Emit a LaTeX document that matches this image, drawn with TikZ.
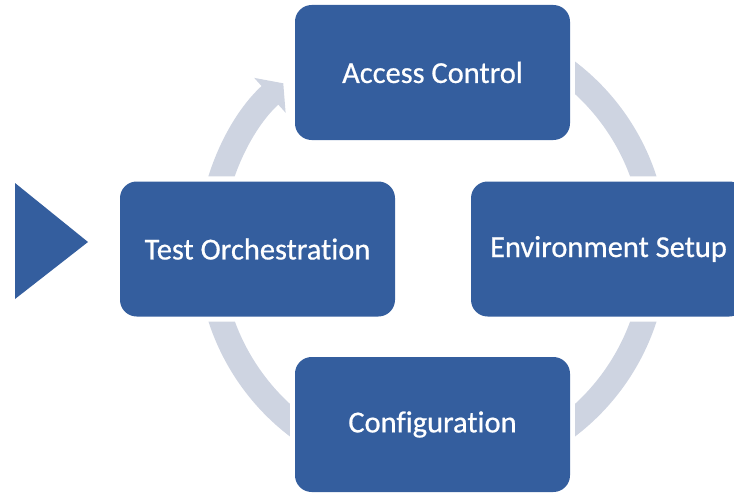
\documentclass[tikz,border=0pt]{standalone}
\usepackage{fontspec}
\setmainfont{Carlito}[Ligatures=NoCommon, FakeBold=0.6]
\usetikzlibrary{arrows.meta}
\definecolor{boxblue}{RGB}{52,94,158}
\definecolor{ringgray}{RGB}{206,212,225}

\begin{document}
\begin{tikzpicture}[x=0.3mm, y=0.3mm,
    stepbox/.style={rectangle, rounded corners=5mm, fill=boxblue, text=white,
        minimum width=82.5mm, minimum height=40.5mm, font=\fontsize{26}{30}\selectfont},
    ring/.style={draw=ringgray, line width=7.5mm}]
    \useasboundingbox (0,0) rectangle (734,-493);

    % Steps
    \node(acc) at (432.5,-72.5) [stepbox] {Access Control};
    \node(env) at (608.5,-249) [stepbox] {Environment Setup};
    \node(conf) at (432.5,-424.5) [stepbox] {Configuration};
    \node(test) at (257.5,-249) [stepbox] {Test Orchestration};

    % Start marker
    \fill[boxblue] (15,-183) -- (88,-242) -- (15,-299) -- cycle;

    % Cycle
    \coordinate (c) at (acc |- test);
    \begin{scope}[even odd rule]
        \clip (-10,10) rectangle (760,-510)
            ([shift={(-5,5)}]acc.north west) rectangle ([shift={(5,-5)}]acc.south east)
            ([shift={(-5,5)}]env.north west) rectangle ([shift={(5,-5)}]env.south east)
            ([shift={(-5,5)}]conf.north west) rectangle ([shift={(5,-5)}]conf.south east)
            ([shift={(-5,5)}]test.north west) rectangle ([shift={(5,-5)}]test.south east);
        \draw[ring] (c) ++(62:223) arc[start angle=62, end angle=8, radius=223];
        \draw[ring] (c) ++(-8:223) arc[start angle=-8, end angle=-62, radius=223];
        \draw[ring] (c) ++(-118:223) arc[start angle=-118, end angle=-172, radius=223];
        \draw[ring, -{Triangle[length=5.4mm, width=13.8mm]}] (c) ++(172:223) arc[start angle=172, end angle=132, radius=223];
    \end{scope}
\end{tikzpicture}
\end{document}
